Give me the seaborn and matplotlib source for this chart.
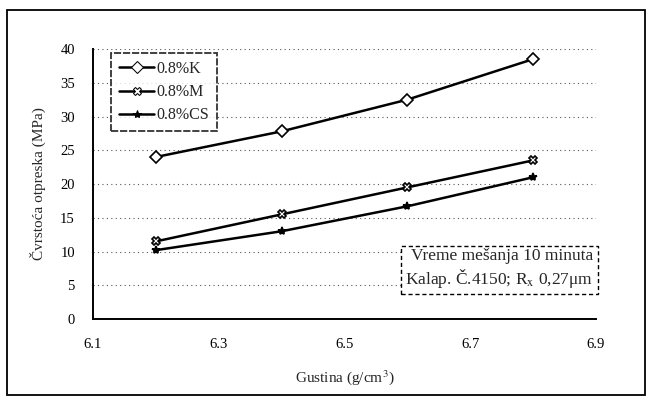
import matplotlib
matplotlib.use("Agg")
import matplotlib.pyplot as plt
import seaborn as sns
import pandas as pd
from matplotlib.patches import Rectangle

gustina = [6.2, 6.4, 6.6, 6.8]
serije = ["0.8%K", "0.8%M", "0.8%CS"]
vrednosti_K = [24.0, 27.8, 32.5, 38.5]
vrednosti_M = [11.5, 15.5, 19.5, 23.5]
vrednosti_CS = [10.2, 13.0, 16.7, 21.0]
x_ticks = [6.1, 6.3, 6.5, 6.7, 6.9]
y_ticks = [0, 5, 10, 15, 20, 25, 30, 35, 40]

df = pd.DataFrame({
    "x": gustina * 3,
    "y": vrednosti_K + vrednosti_M + vrednosti_CS,
    "serija": [serije[0]] * 4 + [serije[1]] * 4 + [serije[2]] * 4,
})

sns.set_style("white")
plt.rcParams["font.family"] = ["Liberation Serif", "DejaVu Serif"]
plt.rcParams["mathtext.fontset"] = "stix"

fig = plt.figure(figsize=(6.53, 4.03), dpi=100)
ax = fig.add_axes([0.1424, 0.2084, 0.7703, 0.67])

ax.grid(axis="y", linestyle=(0, (1, 3)), color="#555555", linewidth=0.8)
ax.set_axisbelow(True)

markers = {"0.8%K": "D", "0.8%M": "X", "0.8%CS": "*"}
sns.lineplot(data=df, x="x", y="y", style="serija", hue="serija",
             palette=["black", "black", "black"], markers=markers, dashes=False,
             markersize=6, linewidth=1.8, ax=ax, legend=True)

for line, fc in zip(ax.lines, ["white", "white", "black"]):
    line.set_markerfacecolor(fc)
    line.set_markeredgecolor("black")
    line.set_markeredgewidth(1.2)

ax.set_xlim(6.1, 6.9)
ax.set_ylim(0, 40)
ax.set_xticks(x_ticks)
ax.set_yticks(y_ticks)
ax.set_xticklabels([f"{v:.1f}" for v in x_ticks])
ax.tick_params(direction="inout", length=8, width=1.0, labelsize=10.5, colors="black")
ax.tick_params(axis="x", pad=10)
ax.tick_params(axis="y", pad=9)
for s in ["top", "right"]:
    ax.spines[s].set_visible(False)
for s in ["left", "bottom"]:
    ax.spines[s].set_color("black")
    ax.spines[s].set_linewidth(1.4)

ax.set_xlabel("Gustina (g/cm$^3$)", fontsize=11, labelpad=12)
ax.set_ylabel("Čvrstoća otpreska (MPa)", fontsize=11, labelpad=10)

leg = ax.legend(loc="upper left", bbox_to_anchor=(0.02, 1.015), fontsize=11.5,
                frameon=True, fancybox=False, edgecolor="black", handlelength=2.2,
                borderpad=0.5, labelspacing=0.45, handletextpad=0.15)
leg.get_frame().set_linewidth(1.3)
leg.get_frame().set_linestyle((0, (4, 1)))
for h, fc in zip(leg.legend_handles, ["white", "white", "black"]):
    h.set_markerfacecolor(fc)
    h.set_markeredgecolor("black")

ax.text(0.995, 0.185, "Vreme mešanja 10 minuta\nKalap. Č.4150; R$_\\mathrm{x}$ 0,27μm",
        transform=ax.transAxes, ha="right", va="center", fontsize=12.5, linespacing=1.15,
        bbox=dict(boxstyle="square,pad=0.25", facecolor="white", edgecolor="black",
                  linestyle=(0, (3, 2)), linewidth=1.0))

fig.patches.append(Rectangle((0.0107, 0.0199), 0.977, 0.955, transform=fig.transFigure,
                             fill=False, edgecolor="black", linewidth=1.3))

fig.savefig("out.png", dpi=100)
